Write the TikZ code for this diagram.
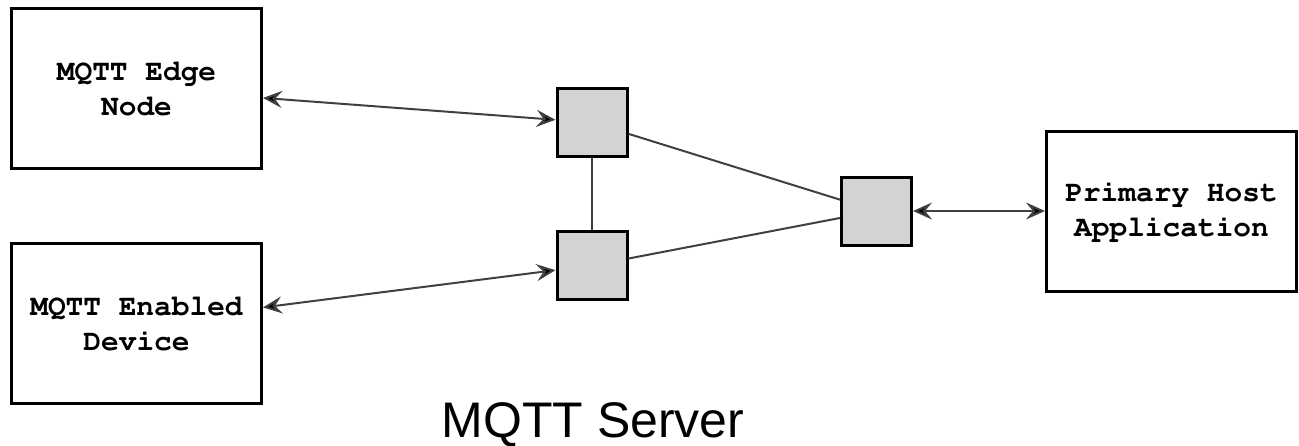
\documentclass[tikz,border=0pt]{standalone}
\usepackage[T1,TU]{fontenc}
\usepackage{fontspec}
\setmainfont{Liberation Sans}
\usetikzlibrary{arrows.meta,positioning}
\definecolor{boxgray}{HTML}{D3D3D3}
\definecolor{linegray}{HTML}{404040}
\newcommand{\courierbold}{\fontencoding{T1}\fontfamily{pcr}\fontseries{b}\fontsize{29.5}{35}\selectfont}
\tikzset{
    net/.style={x=1pt,y=-1pt,>={Stealth[length=19pt,width=17pt,inset=7pt]},
                    semithick},
    client/.style={rectangle, draw=black, line width=3pt, fill=white,
                   minimum width=250pt, minimum height=160pt, align=center,
                   font=\courierbold},
    broker/.style={rectangle, draw=black, line width=3pt, fill=boxgray,
                   minimum width=70pt, minimum height=68pt},
    link/.style={draw=linegray, line width=2pt},
    }

\begin{document}
\begin{tikzpicture}[net]
            \useasboundingbox (0,0) rectangle (1299,445);

            \node[client] (edge) at (136.5,88.5) {MQTT Edge\\Node};
            \node[client] (device) [below=72pt of edge] {MQTT Enabled\\Device};

            \node[broker] (s1) at (592,122.5) {};
            \node[broker] (s2) [below=72pt of s1] {};
            \node[broker] (s3) at (876.5,211) {};

            \node[client] (host) [right=132pt of s3] {Primary Host\\Application};

            \node[font=\fontsize{50}{55}\selectfont, anchor=base] (server) at (593,437) {MQTT Server};

            \path[link,<->] (edge) edge[] (s1);
            \path[link,<->] (device) edge[] (s2);
            \path[link,<->] (s3) edge[] (host);

            \path[link] (s1) edge[] (s2);
            \path[link] (s1) edge[] (s3);
            \path[link] (s2) edge[] (s3);
        \end{tikzpicture}
\end{document}
